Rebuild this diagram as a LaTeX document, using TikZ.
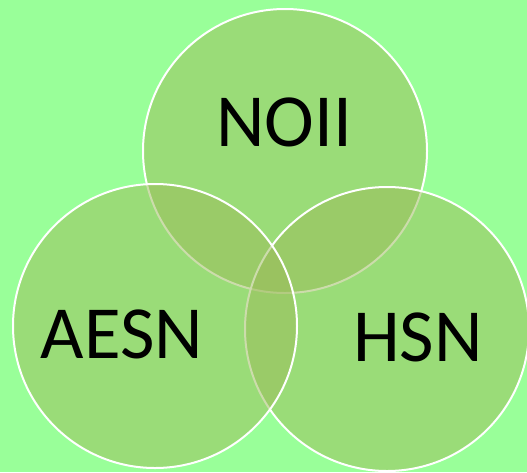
\documentclass[tikz,border=0pt]{standalone}
\usepackage{fontspec}
\setmainfont{Carlito}
\definecolor{bgc}{HTML}{99FF99}
\definecolor{setc}{HTML}{9BBB59}
\begin{document}
\begin{tikzpicture}[x=1pt,y=-1pt,
  setcirc/.style={circle, minimum size=284pt, inner sep=0pt, fill=setc, fill opacity=0.5, draw=white, draw opacity=1, line width=2pt},
  lbl/.style={anchor=base, inner sep=0pt, text=black, font=\fontsize{75}{75}\selectfont}]
\fill[bgc] (0,0) rectangle (527,472);
\useasboundingbox (0,0) rectangle (527,472);
\node[setcirc] (top) at (285,151) {};
\node[setcirc] (right) at (387,329) {};
\node[setcirc] (left) at (155,326) {};
\node[lbl] (noii) at (284,146) {NOII};
\node[lbl] (aesn) at (122,358) {AESN};
\node[lbl] (hsn) at (418,361) {HSN};
\end{tikzpicture}
\end{document}
